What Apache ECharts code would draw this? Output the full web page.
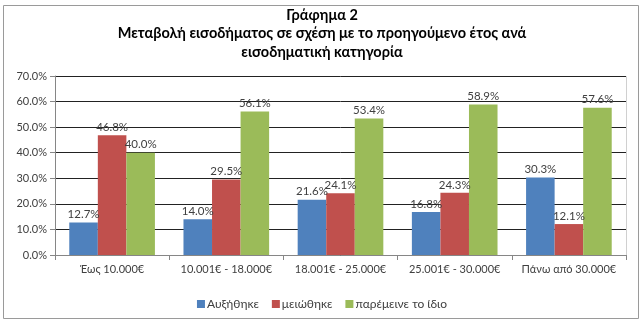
<!DOCTYPE html>
<html>
<head>
<meta charset="utf-8">
<script src="https://cdn.jsdelivr.net/npm/echarts@6/dist/echarts.min.js"></script>
<style>
  html, body { margin: 0; padding: 0; background: #fff; }
  #chart { width: 644px; height: 325px; }
</style>
</head>
<body>
<div id="chart"></div>
<script>
// Income brackets and the share of households per outcome (%)
const categories = ['Έως 10.000€', '10.001€ - 18.000€', '18.001€ - 25.000€', '25.001€ - 30.000€', 'Πάνω από 30.000€'];
const increased = [12.7, 14.0, 21.6, 16.8, 30.3];
const decreased = [46.8, 29.5, 24.1, 24.3, 12.1];
const unchanged = [40.0, 56.1, 53.4, 58.9, 57.6];
const seriesNames = ['Αυξήθηκε', 'μειώθηκε', 'παρέμεινε το ίδιο'];
const colors = ['#4F81BD', '#C0504D', '#9BBB59'];
const titleLines = ['Γράφημα 2', 'Μεταβολή εισοδήματος σε σχέση με το προηγούμενο έτος ανά', 'εισοδηματική κατηγορία'];

const font = 'Lato, "Open Sans", sans-serif';
const chart = echarts.init(document.getElementById('chart'), null, { renderer: 'canvas' });

const grid = { left: 55, right: 18, top: 76, bottom: 70 };

function barSeries(name, data, color) {
  return {
    name: name,
    type: 'bar',
    data: data,
    barGap: '0%',
    barCategoryGap: '25%',
    itemStyle: { color: color },
    label: {
      show: true,
      position: 'top',
      distance: 2,
      formatter: p => p.value.toFixed(1) + '%',
      color: '#404040',
      fontFamily: font,
      fontSize: 11.5
    }
  };
}

chart.setOption({
  animation: false,
  textStyle: { fontFamily: font },
  graphic: [
    {
      type: 'rect',
      shape: { x: 3.5, y: 5.5, width: 635, height: 313 },
      style: { fill: 'none', stroke: '#9a9a9a', lineWidth: 1 },
      silent: true
    },
    {
      type: 'rect',
      shape: { x: 55.5, y: 76.5, width: 571, height: 179 },
      style: { fill: 'none', stroke: '#d0d0d0', lineWidth: 1 },
      silent: true,
      z: -1
    },
    {
      type: 'text',
      x: 322,
      y: 6,
      style: {
        text: titleLines.join('\n'),
        fontFamily: font,
        fontSize: 14.5,
        fontWeight: 'bold',
        lineHeight: 18.5,
        fill: '#000',
        align: 'center',
        verticalAlign: 'top'
      }
    }
  ],
  legend: {
    top: 293,
    left: 'center',
    itemWidth: 8,
    itemHeight: 8,
    itemGap: 13,
    icon: 'rect',
    textStyle: { fontFamily: font, fontSize: 12, color: '#404040', padding: [0, 0, 0, -3] },
    data: seriesNames
  },
  grid: grid,
  xAxis: {
    type: 'category',
    data: categories,
    axisLine: { lineStyle: { color: '#868686' } },
    axisTick: { show: true, length: 5, lineStyle: { color: '#868686' } },
    axisLabel: { interval: 0, color: '#404040', fontFamily: font, fontSize: 11, margin: 9 }
  },
  yAxis: {
    type: 'value',
    min: 0,
    max: 70,
    interval: 10,
    axisLine: { show: true, lineStyle: { color: '#868686' } },
    axisTick: { show: true, length: 5, lineStyle: { color: '#868686' } },
    splitLine: { lineStyle: { color: '#222', width: 1 } },
    axisLabel: {
      color: '#404040',
      fontFamily: font,
      fontSize: 11,
      margin: 8,
      formatter: v => v.toFixed(1) + '%'
    }
  },
  series: [
    barSeries(seriesNames[0], increased, colors[0]),
    barSeries(seriesNames[1], decreased, colors[1]),
    barSeries(seriesNames[2], unchanged, colors[2])
  ]
});
</script>
</body>
</html>
